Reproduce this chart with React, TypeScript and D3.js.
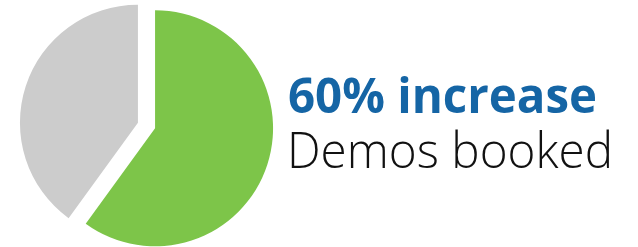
import React from 'react';
import * as d3 from 'd3';

const labels = ['Demos booked', 'Other'];
const values = [60, 40];
const colors = ['#7dc549', '#cccccc'];
const headline = '60% increase';
const subline = 'Demos booked';

const App: React.FC = () => {
  const width = 638;
  const height = 247;
  const cx = 146.5;
  const cy = 125.5;
  const radius = 118;
  const offset = 9;

  const pie = d3.pie<number>().sort(null).value((d) => d);
  const arc = d3.arc<d3.PieArcDatum<number>>().innerRadius(0).outerRadius(radius);
  const slices = pie(values);

  return (
    <svg
      width={width}
      height={height}
      style={{ position: 'absolute', left: 0, top: 0 }}
    >
      <rect width={width} height={height} fill="#ffffff" />
      <g transform={`translate(${cx},${cy})`}>
        {slices.map((s, i) => {
          const mid = (s.startAngle + s.endAngle) / 2;
          const dx = Math.sin(mid) * offset;
          const dy = -Math.cos(mid) * offset;
          return (
            <path
              key={labels[i]}
              d={arc(s) || ''}
              fill={colors[i]}
              transform={`translate(${dx},${dy})`}
            />
          );
        })}
      </g>
      <text
        x={288}
        y={113}
        fontFamily="'Open Sans', sans-serif"
        fontWeight={700}
        fontSize={49}
        fill="#1565a5"
        textLength={309}
        lengthAdjust="spacingAndGlyphs"
      >
        {headline}
      </text>
      <text
        x={287}
        y={168}
        fontFamily="'Open Sans', sans-serif"
        fontWeight={300}
        fontSize={49}
        fill="#111111"
        textLength={326}
        lengthAdjust="spacingAndGlyphs"
      >
        {subline}
      </text>
    </svg>
  );
};

export default App;
